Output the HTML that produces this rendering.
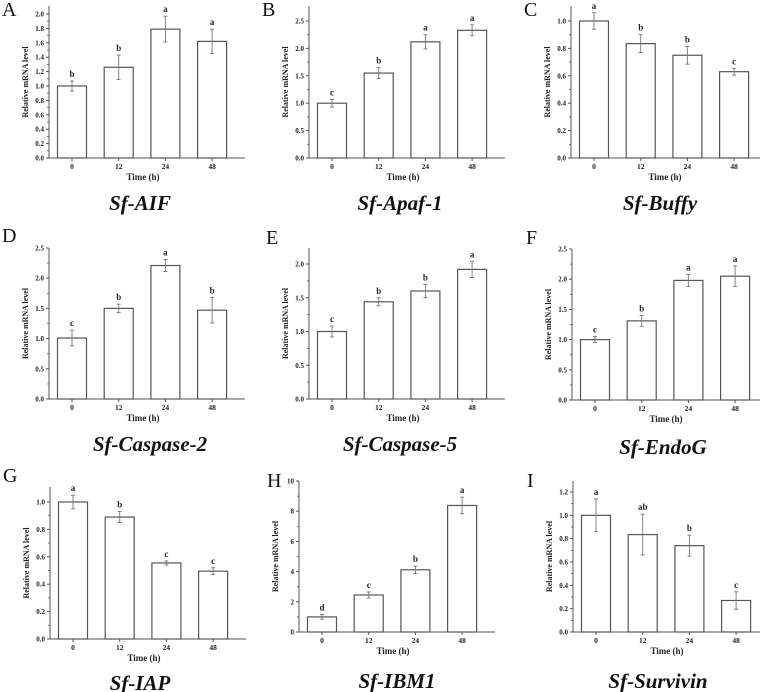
<!DOCTYPE html>
<html><head><meta charset="utf-8"><style>
html,body{margin:0;padding:0;background:#fff;}
svg{display:block;}
text{font-family:"Liberation Serif",serif;}
</style></head><body>
<svg id="fig" width="760" height="692" viewBox="0 0 760 692" xmlns="http://www.w3.org/2000/svg"></svg>
<script>
const categories = ["0","12","24","48"];
const genes = ["Sf-AIF","Sf-Apaf-1","Sf-Buffy","Sf-Caspase-2","Sf-Caspase-5","Sf-EndoG","Sf-IAP","Sf-IBM1","Sf-Survivin"];
const panelLetters = ["A","B","C","D","E","F","G","H","I"];
const means = [
  [1.0,1.26,1.79,1.62],
  [1.0,1.55,2.12,2.33],
  [1.0,0.835,0.75,0.63],
  [1.01,1.5,2.21,1.47],
  [1.0,1.44,1.6,1.92],
  [1.0,1.31,1.98,2.05],
  [1.0,0.89,0.555,0.495],
  [1.0,2.45,4.12,8.38],
  [1.0,0.835,0.74,0.27]
];
const errors = [
  [0.07,0.17,0.18,0.17],
  [0.07,0.1,0.13,0.1],
  [0.06,0.065,0.065,0.025],
  [0.13,0.07,0.1,0.21],
  [0.08,0.06,0.1,0.12],
  [0.05,0.09,0.1,0.17],
  [0.05,0.04,0.015,0.025],
  [0.15,0.2,0.25,0.55],
  [0.14,0.175,0.09,0.075]
];
const sigLetters = [
  ["b","b","a","a"],["c","b","a","a"],["a","b","b","c"],
  ["c","b","a","b"],["c","b","b","a"],["c","b","a","a"],
  ["a","b","c","c"],["d","c","b","a"],["a","ab","b","c"]
];
const tickMax = [2.0,2.5,1.0,2.5,2.0,2.5,1.0,10,1.2];
const tickStep = [0.2,0.5,0.2,0.5,0.5,0.5,0.2,2,0.2];

// layout (pixel geometry)
const layout = [
  {ax:49,y0:158,ym:14,top:6,lx:2,ly:16,tx:140,ty:210},
  {ax:309,y0:158,ym:21,top:6,lx:262,ly:16,tx:400,ty:210},
  {ax:571,y0:158,ym:21,top:6,lx:524,ly:16,tx:660,ty:210},
  {ax:49,y0:399,ym:248,top:248,lx:2,ly:242,tx:150,ty:451},
  {ax:309,y0:399,ym:264,top:248,lx:266,ly:244,tx:400,ty:451},
  {ax:572,y0:400,ym:249,top:249,lx:526,ly:244,tx:663,ty:454},
  {ax:50,y0:639,ym:502,top:487,lx:3,ly:482,tx:140,ty:690},
  {ax:299,y0:632,ym:481,top:481,lx:267,ly:487,tx:397,ty:688},
  {ax:573,y0:632,ym:492,top:481,lx:527,ly:487,tx:658,ty:688}
];
const NS="http://www.w3.org/2000/svg";
const svg=document.getElementById('fig');
function mk(tag,attrs,parent){const e=document.createElementNS(NS,tag);for(const k in attrs)e.setAttribute(k,attrs[k]);(parent||svg).appendChild(e);return e;}

for(let p=0;p<9;p++){
  const L=layout[p];
  const g=mk('g',{});
  
  
  const yScale=v=>L.y0-(v/tickMax[p])*(L.y0-L.ym);
  const xScale=i=>L.ax+23+46.7*i;
  const right=L.ax+196;
  const stroke='#555';
  const pl=mk('text',{x:L.lx,y:L.ly,'font-size':20,fill:'#111'},g);
  pl.textContent=panelLetters[p];
  
  
  const ya=mk('line',{x1:L.ax,y1:L.top,x2:L.ax,y2:L.y0,stroke:stroke,'stroke-width':1},g);
  
  
  const xa=mk('line',{x1:L.ax,y1:L.y0,x2:right,y2:L.y0,stroke:stroke,'stroke-width':1},g);
  
  
  const nT=Math.round(tickMax[p]/tickStep[p]);
  const dec=tickStep[p]>=1?0:1;
  for(let k=0;k<=nT;k++){
    const v=k*tickStep[p];const y=yScale(v);
    mk('line',{x1:L.ax-3,y1:y,x2:L.ax,y2:y,stroke:stroke,'stroke-width':1},g);
    const t=mk('text',{x:L.ax-5,y:y+2.5,'font-size':7,'font-weight':'bold','text-anchor':'end',fill:'#222'},g);
    t.textContent=v.toFixed(dec);
    
    
    if(k<nT){const ym=yScale(v+tickStep[p]/2);mk('line',{x1:L.ax-2,y1:ym,x2:L.ax,y2:ym,stroke:stroke,'stroke-width':0.8},g);}
  }
  const cy=(L.top+L.y0)/2;
  const yt=mk('text',{x:0,y:0,'font-size':8,'font-weight':'bold','text-anchor':'middle',fill:'#222',transform:`translate(${L.ax-21},${cy}) rotate(-90)`},g);
  yt.textContent='Relative mRNA level';
  
  
  for(let i=0;i<4;i++){
    const cx=xScale(i);const yv=yScale(means[p][i]);
    const b=mk('rect',{x:cx-14.5,y:yv,width:29,height:L.y0-yv,fill:'#fff',stroke:stroke,'stroke-width':1.2},g);
    
    
    const e1=yScale(means[p][i]+errors[p][i]),e2=yScale(means[p][i]-errors[p][i]);
    const eb=mk('path',{d:`M${cx},${e1}V${e2}M${cx-2},${e1}H${cx+2}M${cx-2},${e2}H${cx+2}`,stroke:'#777','stroke-width':0.9,fill:'none'},g);
    
    
    const s=mk('text',{x:cx,y:e1-4,'font-size':9,'font-weight':'bold','text-anchor':'middle',fill:'#222'},g);
    s.textContent=sigLetters[p][i];
    
    
    mk('line',{x1:cx,y1:L.y0,x2:cx,y2:L.y0+3,stroke:stroke,'stroke-width':1},g);
    const xl=mk('text',{x:cx,y:L.y0+11,'font-size':7.5,'font-weight':'bold','text-anchor':'middle',fill:'#222'},g);
    xl.textContent=categories[i];
    
    
  }
  const xt=mk('text',{x:L.ax+94,y:L.y0+22,'font-size':9,'font-weight':'bold','text-anchor':'middle',fill:'#222'},g);
  xt.textContent='Time (h)';
  
  
  const ti=mk('text',{x:L.tx,y:L.ty,'font-size':21,'font-weight':'bold','font-style':'italic','text-anchor':'middle',fill:'#111'},g);
  ti.textContent=genes[p];
  
  
}
</script>
</body></html>
